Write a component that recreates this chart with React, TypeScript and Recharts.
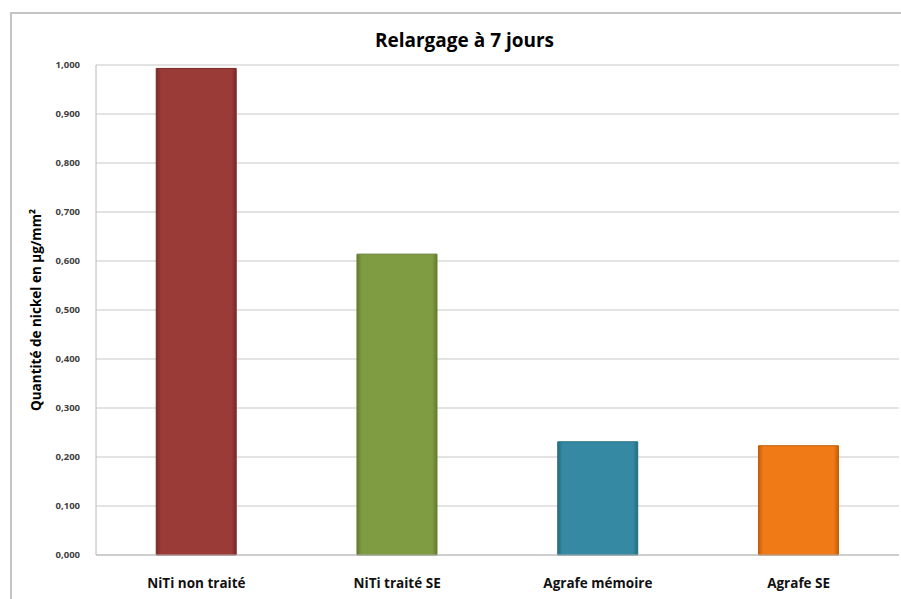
import React from "react";
import { BarChart, Bar, XAxis, YAxis, CartesianGrid, Cell } from "recharts";

const categories = ["NiTi non traité", "NiTi traité SE", "Agrafe mémoire", "Agrafe SE"];
const values = [0.993, 0.614, 0.231, 0.223];
const yTicks = [0, 0.1, 0.2, 0.3, 0.4, 0.5, 0.6, 0.7, 0.8, 0.9, 1.0];
const barColors = ["#9B3B38", "#7F9C42", "#3589A3", "#F07A16"];
const barEdges = ["#7A2A28", "#637B30", "#246C82", "#C25E08"];

const title = "Relargage à 7 jours";
const yLabel = "Quantité de nickel en µg/mm²";

const data = categories.map((c, i) => ({ name: c, value: values[i] }));

const FONT = "'Open Sans', 'Noto Sans', sans-serif";

const fmt = (v: number) => v.toFixed(3).replace(".", ",");

const YLabel = (props: any) => {
  const vb = props.viewBox || {};
  const cy = (vb.y ?? 65) + (vb.height ?? 490) / 2;
  const cx = 36;
  return (
    <text
      x={cx}
      y={cy}
      transform={`rotate(-90, ${cx}, ${cy})`}
      textAnchor="middle"
      dominantBaseline="central"
      style={{ fontFamily: FONT, fontWeight: 700, fontSize: 13.5, fill: "#000" }}
    >
      {yLabel}
    </text>
  );
};

export default function App() {
  return (
    <div style={{ position: "absolute", left: 0, top: 0, width: 901, height: 599, background: "#fff", overflow: "hidden" }}>
      <div
        style={{
          position: "absolute",
          left: 10,
          top: 12,
          width: 910,
          height: 620,
          borderLeft: "2px solid #c4c4c4",
          borderTop: "2px solid #c4c4c4",
          boxSizing: "border-box",
        }}
      />
      <div
        style={{
          position: "absolute",
          left: 14,
          width: 901,
          top: 26,
          textAlign: "center",
          fontFamily: FONT,
          fontWeight: 700,
          fontSize: 19,
          lineHeight: "28px",
          color: "#000",
        }}
      >
        {title}
      </div>
      <div style={{ position: "absolute", left: 0, top: 0 }}>
        <BarChart
          width={901}
          height={599}
          data={data}
          margin={{ top: 65, right: 2, left: 10, bottom: 14 }}
          barCategoryGap="30%"
        >
          <defs>
            {barColors.map((c, i) => (
              <linearGradient key={i} id={`g${i}`} x1="0" y1="0" x2="1" y2="0">
                <stop offset="0%" stopColor={barEdges[i]} />
                <stop offset="6%" stopColor={c} />
                <stop offset="94%" stopColor={c} />
                <stop offset="100%" stopColor={barEdges[i]} />
              </linearGradient>
            ))}
          </defs>
          <CartesianGrid vertical={false} stroke="#c8c8c8" strokeWidth={1.2} />
          <XAxis
            dataKey="name"
            height={30}
            axisLine={{ stroke: "#b8b8b8" }}
            tickLine={false}
            tickMargin={17}
            tick={{ fontFamily: FONT, fontWeight: 700, fontSize: 13.5, fill: "#111" }}
          />
          <YAxis
            width={86}
            domain={[0, 1]}
            ticks={yTicks}
            tickFormatter={fmt}
            axisLine={{ stroke: "#b8b8b8" }}
            tickLine={false}
            tickMargin={10}
            interval={0}
            tick={{ fontFamily: FONT, fontWeight: 700, fontSize: 9.5, fill: "#404040" }}
            label={{ value: yLabel, content: (p: any) => <YLabel {...p} /> }}
          />
          <Bar dataKey="value" isAnimationActive={false}>
            {data.map((d, i) => (
              <Cell key={d.name} fill={`url(#g${i})`} stroke={barEdges[i]} strokeWidth={1} />
            ))}
          </Bar>
        </BarChart>
      </div>
    </div>
  );
}
